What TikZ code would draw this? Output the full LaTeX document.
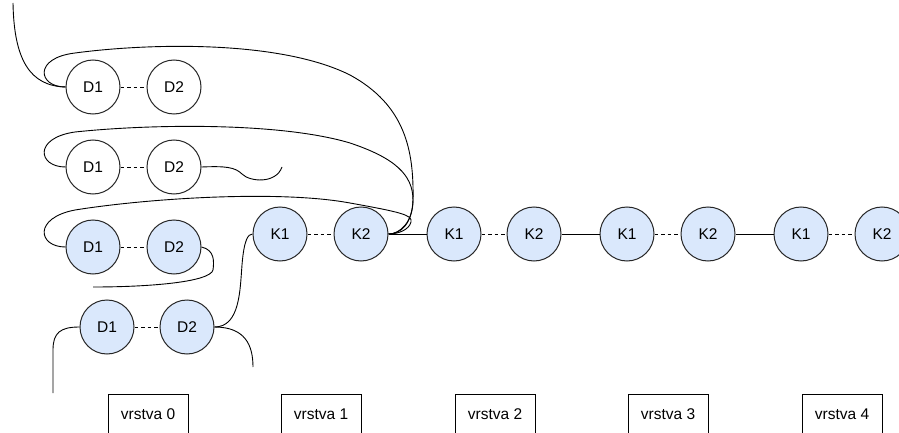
\documentclass[tikz,border=0pt]{standalone}
\usepackage{fontspec}
\setmainfont{Liberation Sans}
\begin{document}
\begin{tikzpicture}[x=1pt,y=-1pt,
  every node/.style={font=\fontsize{15.5}{18}\selectfont},
  wnode/.style={circle,draw=black!85,line width=1pt,fill=white,minimum size=54pt,inner sep=0pt},
  bnode/.style={wnode,fill=blueA},
  layer/.style={draw=black,line width=1pt,minimum width=80pt,minimum height=50pt,anchor=north,inner sep=0pt},
  dashlink/.style={line width=0.9pt,dash pattern=on 3.5pt off 3pt},
  wire/.style={line width=0.9pt}]
\definecolor{blueA}{HTML}{DAE8FC}
\clip (0,0) rectangle (899,433);
\useasboundingbox (0,0) rectangle (899,433);
% row 1
\node[wnode] (d1a) at (93,87) {D1};
\node[wnode] (d2a) at (174,87) {D2};
% row 2
\node[wnode] (d1b) at (93,167) {D1};
\node[wnode] (d2b) at (174,167) {D2};
% row 3
\node[bnode] (d1c) at (93,247) {D1};
\node[bnode] (d2c) at (174,247) {D2};
% row 4
\node[bnode] (d1d) at (107,327) {D1};
\node[bnode] (d2d) at (187,327) {D2};
% K chain
\node[bnode] (k1a) at (280,234) {K1};
\node[bnode] (k2a) at (361,234) {K2};
\node[bnode] (k1b) at (454,234) {K1};
\node[bnode] (k2b) at (534,234) {K2};
\node[bnode] (k1c) at (627,234) {K1};
\node[bnode] (k2c) at (708,234) {K2};
\node[bnode] (k1d) at (801,234) {K1};
\node[bnode] (k2d) at (882,234) {K2};
% layers
\node[layer] (v0) at (148,394) {};
\node[layer] (v1) at (321,394) {};
\node[layer] (v2) at (495,394) {};
\node[layer] (v3) at (668,394) {};
\node[layer] (v4) at (842,394) {};
\node (t0) at (148,414) {vrstva 0};
\node (t1) at (321,414) {vrstva 1};
\node (t2) at (495,414) {vrstva 2};
\node (t3) at (668,414) {vrstva 3};
\node (t4) at (842,414) {vrstva 4};
% dashed links
\draw[dashlink] (d1a) -- (d2a);
\draw[dashlink] (d1b) -- (d2b);
\draw[dashlink] (d1c) -- (d2c);
\draw[dashlink] (d1d) -- (d2d);
\draw[dashlink] (k1a) -- (k2a);
\draw[dashlink] (k1b) -- (k2b);
\draw[dashlink] (k1c) -- (k2c);
\draw[dashlink] (k1d) -- (k2d);
% solid links
\draw[wire] (k2a) -- (k1b);
\draw[wire] (k2b) -- (k1c);
\draw[wire] (k2c) -- (k1d);
% free ends
\coordinate (top) at (13,3);
\coordinate (sq) at (282,167);
\coordinate (bt) at (93,287);
\coordinate (lf) at (53,393);
\coordinate (rt) at (253,367);
% curves
\draw[wire] (top) .. controls (14,60) and (30,86) .. (d1a.west);
\draw[wire] (d1a.west) .. controls (38,87) and (33,58) .. (75,53)
  .. controls (150,43) and (280,40) .. (350,75)
  .. controls (405,105) and (414,150) .. (413,200)
  .. controls (412,225) and (400,234) .. (k2a.east);
\draw[wire] (d1b.west) .. controls (38,167) and (33,138) .. (75,132)
  .. controls (150,124) and (280,122) .. (350,143)
  .. controls (395,158) and (413,175) .. (413,200)
  .. controls (413,222) and (400,234) .. (k2a.east);
\draw[wire] (d1c.west) .. controls (38,247) and (33,218) .. (75,210)
  .. controls (150,198) and (280,190) .. (350,203)
  .. controls (400,212) and (413,215) .. (411,222)
  .. controls (409,230) and (398,234) .. (k2a.east);
\draw[wire] (d2b.east) .. controls (225,166) and (235,167) .. (242,174)
  .. controls (250,182) and (276,184) .. (sq);
\draw[wire] (d2c.east) .. controls (215,250) and (214,262) .. (213,270)
  .. controls (210,282) and (150,287) .. (bt);
\draw[wire] (d1d.west) .. controls (60,327) and (53,333) .. (53,350) -- (lf);
\draw[wire] (d2d.east) .. controls (240,327) and (240,290) .. (242,265)
  .. controls (244,240) and (248,234) .. (k1a.west);
\draw[wire] (d2d.east) .. controls (245,327) and (253,345) .. (rt);
\end{tikzpicture}
\end{document}
